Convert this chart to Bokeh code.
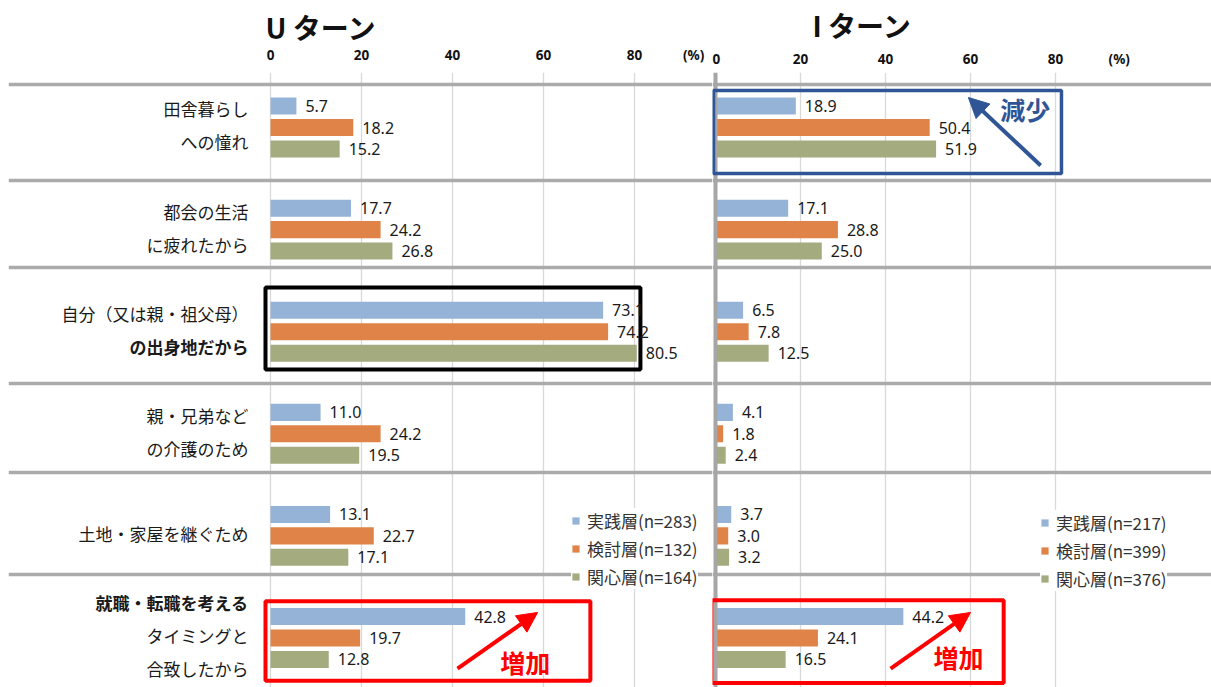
from bokeh.plotting import figure
from bokeh.layouts import row
from bokeh.models import (ColumnDataSource, FixedTicker, Range1d, Span, BoxAnnotation,
                          Arrow, NormalHead, Label, Legend, LegendItem, Title)
from bokeh.transform import dodge
from bokeh.embed import file_html
from bokeh.resources import INLINE
from bokeh.core.properties import value

# Reasons (one list of lines per reason, top to bottom)
reason_lines = [
    ["田舎暮らし", "への憧れ"],
    ["都会の生活", "に疲れたから"],
    ["自分（又は親・祖父母）", "の出身地だから"],
    ["親・兄弟など", "の介護のため"],
    ["土地・家屋を継ぐため"],
    ["就職・転職を考える", "タイミングと", "合致したから"],
]
bold_lines = ["の出身地だから", "就職・転職を考える"]

series_names = ["実践層", "検討層", "関心層"]

# U-turn (%)
u_jissen = [5.7, 17.7, 73.1, 11.0, 13.1, 42.8]
u_kentou = [18.2, 24.2, 74.2, 24.2, 22.7, 19.7]
u_kanshin = [15.2, 26.8, 80.5, 19.5, 17.1, 12.8]
u_counts = [283, 132, 164]

# I-turn (%)
i_jissen = [18.9, 17.1, 6.5, 4.1, 3.7, 44.2]
i_kentou = [50.4, 28.8, 7.8, 1.8, 3.0, 24.1]
i_kanshin = [51.9, 25.0, 12.5, 2.4, 3.2, 16.5]
i_counts = [217, 399, 376]

grid_ticks = [0, 20, 40, 60, 80]

COLORS = ["#95B3D7", "#DF8349", "#A3AB7F"]
SEP_COLOR = "#ABABAB"
GRID_COLOR = "#D9D9D9"
JP = "Noto Sans CJK JP"
NUM = "Noto Sans"

H = 687
TOP = 72
Y_RANGE = (5.485, -0.539)          # rows run top to bottom
BAR_PITCH = 0.21
BAR_H = 0.167
SEPARATORS = [-0.421, 0.519, 1.371, 2.507, 3.379, 4.378]


def build_panel(series, counts, width, x_start, x_end, border_left, pct_pos,
                label_standoff, legend_loc, title, title_offset, title_standoff):
    p = figure(width=width, height=H,
               x_range=Range1d(x_start, x_end), y_range=Range1d(*Y_RANGE),
               x_axis_location="above", y_axis_location=None,
               output_backend="svg", toolbar_location=None,
               min_border_left=border_left, min_border_right=0,
               min_border_top=TOP, min_border_bottom=0,
               outline_line_color=None, background_fill_color="white",
               border_fill_color="white")
    ax = p.xaxis[0]
    ax.ticker = FixedTicker(ticks=grid_ticks + [pct_pos])
    ax.major_label_overrides = {pct_pos: "(%)"}
    ax.axis_line_color = None
    ax.major_tick_line_color = None
    ax.minor_tick_line_color = None
    ax.major_tick_out = 0
    ax.major_label_standoff = label_standoff
    ax.major_label_text_font = NUM
    ax.major_label_text_font_style = "bold"
    ax.major_label_text_font_size = "13.5px"
    ax.major_label_text_color = "#111111"
    p.xgrid.ticker = FixedTicker(ticks=grid_ticks)
    p.xgrid.grid_line_color = GRID_COLOR
    p.xgrid.grid_line_width = 1.3
    p.ygrid.visible = False

    p.add_layout(Title(text=title, align="left", offset=title_offset,
                       text_font=JP, text_font_style="bold",
                       text_font_size="28px", text_color="#111111",
                       standoff=title_standoff), "above")

    for s in SEPARATORS:
        p.add_layout(Span(location=s, dimension="width", line_color=SEP_COLOR,
                          line_width=3.5))

    idx = list(range(len(series[0])))
    items = []
    for k, vals in enumerate(series):
        off = (k - 1) * BAR_PITCH
        src = ColumnDataSource(dict(idx=idx, v=vals,
                                    lab=[f"{x:.1f}" for x in vals]))
        r = p.hbar(y=dodge("idx", off), left=0, right="v", height=BAR_H,
                   source=src, fill_color=COLORS[k], line_color=None)
        p.text(x="v", y=dodge("idx", off), text="lab", source=src,
               x_offset=9, text_baseline="middle", text_align="left",
               text_font=value(NUM), text_font_size="16px",
               text_color="#1a1a1a")
        items.append(LegendItem(label=f"{series_names[k]}(n={counts[k]})",
                                renderers=[r]))

    legend = Legend(items=items, location=legend_loc,
                    glyph_width=9, glyph_height=9, label_height=25, spacing=3,
                    padding=5, margin=0, label_standoff=7,
                    label_text_font=JP, label_text_font_size="17px",
                    label_text_color="#333333",
                    background_fill_color="white", background_fill_alpha=1,
                    border_line_color=None)
    p.add_layout(legend)
    return p


def frame_box(p, l, r, t, b, color, width, level="annotation"):
    p.add_layout(BoxAnnotation(left=l, right=r, top=t, bottom=b,
                               fill_color=None, line_color=color,
                               line_alpha=1, line_width=width, level=level))


def trend_arrow(p, x0, y0, x1, y1, color):
    p.add_layout(Arrow(end=NormalHead(size=20, fill_color=color, line_color=color),
                       x_start=x0, y_start=y0, x_end=x1, y_end=y1,
                       line_color=color, line_width=4))


def trend_text(p, x, y, text, color):
    p.add_layout(Label(x=x, y=y, text=text, text_align="center",
                       text_baseline="middle", text_font=JP,
                       text_font_style="bold", text_font_size="25px",
                       text_color=color))


RED = "#FF0000"
BLUE = "#2F5597"

# ---- U-turn panel (with reason labels) ----
left = build_panel([u_jissen, u_kentou, u_kanshin], u_counts,
                   width=712, x_start=-57.58, x_end=97.14, border_left=8,
                   pct_pos=93, label_standoff=9, legend_loc=(563, 98.5),
                   title="U ターン", title_offset=257, title_standoff=-8)

# reason labels, right aligned next to the zero line
lx, ly, lt, lw = [], [], [], []
LINE_STEP = 0.323
for i, lines in enumerate(reason_lines):
    n = len(lines)
    for j, t in enumerate(lines):
        lx.append(0)
        ly.append(i + (j - (n - 1) / 2) * LINE_STEP - 0.02)
        lt.append(t)
        lw.append("bold" if t in bold_lines else "normal")
left.text(x="x", y="y", text="t", text_font_style="w",
          source=ColumnDataSource(dict(x=lx, y=ly, t=lt, w=lw)),
          x_offset=-22, text_align="right", text_baseline="middle",
          text_font=value(JP), text_font_size="17px", text_color="#1a1a1a")

frame_box(left, -1.1, 81.3, 1.567, 2.37, "black", 4, "underlay")   # home town
frame_box(left, -1.1, 70.3, 4.64, 5.42, RED, 4)                    # job timing
trend_arrow(left, 41.1, 5.30, 58.7, 4.75, RED)
trend_text(left, 56, 5.24, "増加", RED)

# ---- I-turn panel ----
right = build_panel([i_jissen, i_kentou, i_kanshin], i_counts,
                    width=499, x_start=-0.706, x_end=116.7, border_left=0,
                    pct_pos=95, label_standoff=5, legend_loc=(328, 96.5),
                    title="I ターン", title_offset=100, title_standoff=3)

right.add_layout(Span(location=0, dimension="height", line_color="#A6A6A6",
                      line_width=4))

frame_box(right, -0.47, 81.4, -0.362, 0.45, BLUE, 3.5)   # countryside life
trend_arrow(right, 76.5, 0.372, 59.5, -0.294, BLUE)
trend_text(right, 72.9, -0.186, "減少", BLUE)

frame_box(right, -0.94, 67.8, 4.63, 5.44, RED, 4)        # job timing
trend_arrow(right, 41.2, 5.30, 60.0, 4.75, RED)
trend_text(right, 57.2, 5.19, "増加", RED)

layout = row(left, right, spacing=0)
open("out.html", "w").write(file_html(layout, INLINE))
